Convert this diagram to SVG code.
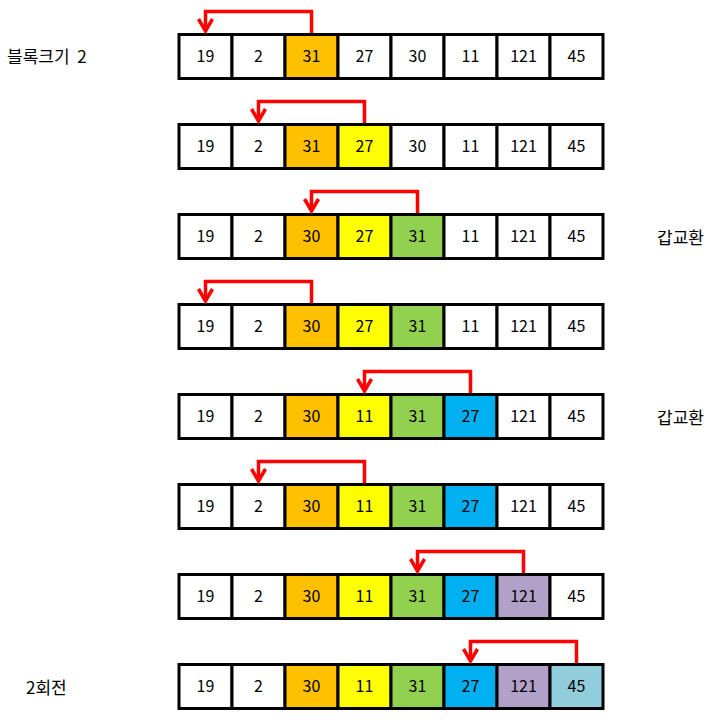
<svg xmlns="http://www.w3.org/2000/svg" width="721" height="722" viewBox="0 0 721 722">
<style>
.c{stroke:#000;stroke-width:3}
.w{fill:#fff}.o{fill:#FFC000}.y{fill:#FFFF00}.g{fill:#92D050}.b{fill:#00B0F0}.p{fill:#B1A0C7}.l{fill:#92CDDC}
.t{font-family:"Noto Sans CJK KR","Liberation Sans",sans-serif;font-size:16px;text-anchor:middle;fill:#000}
.k{font-family:"Noto Sans CJK KR","Liberation Sans",sans-serif;font-size:17px;fill:#000}
.a{fill:none;stroke:#FF0000;stroke-width:3.5}
</style>
<defs>
<marker id="ah" markerUnits="userSpaceOnUse" markerWidth="20" markerHeight="20" refX="10" refY="2" orient="auto-start-reverse" viewBox="0 0 20 20" overflow="visible">
<path d="M3,-10 L10,2 L17,-10" transform="rotate(-90 10 2)" fill="none" stroke="#FF0000" stroke-width="3.5"/>
</marker>
</defs>
<rect width="721" height="722" fill="#fff"/>

<g id="labels">
<text class="k" x="7" y="63" word-spacing="4">블록크기 2</text>
<text class="k" x="657" y="244">갑교환</text>
<text class="k" x="657" y="424">갑교환</text>
<text class="k" x="26" y="694">2회전</text>
</g>

<g id="row1">
<rect class="c w" x="179" y="34.5" width="53" height="44"/><text class="t" x="205.5" y="62">19</text>
<rect class="c w" x="232" y="34.5" width="53" height="44"/><text class="t" x="258.5" y="62">2</text>
<rect class="c o" x="285" y="34.5" width="53" height="44"/><text class="t" x="311.5" y="62">31</text>
<rect class="c w" x="338" y="34.5" width="53" height="44"/><text class="t" x="364.5" y="62">27</text>
<rect class="c w" x="391" y="34.5" width="53" height="44"/><text class="t" x="417.5" y="62">30</text>
<rect class="c w" x="444" y="34.5" width="53" height="44"/><text class="t" x="470.5" y="62">11</text>
<rect class="c w" x="497" y="34.5" width="53" height="44"/><text class="t" x="523.5" y="62">121</text>
<rect class="c w" x="550" y="34.5" width="53" height="44"/><text class="t" x="576.5" y="62">45</text>
</g>
<g id="row2" transform="translate(0,90)">
<rect class="c w" x="179" y="34.5" width="53" height="44"/><text class="t" x="205.5" y="62">19</text>
<rect class="c w" x="232" y="34.5" width="53" height="44"/><text class="t" x="258.5" y="62">2</text>
<rect class="c o" x="285" y="34.5" width="53" height="44"/><text class="t" x="311.5" y="62">31</text>
<rect class="c y" x="338" y="34.5" width="53" height="44"/><text class="t" x="364.5" y="62">27</text>
<rect class="c w" x="391" y="34.5" width="53" height="44"/><text class="t" x="417.5" y="62">30</text>
<rect class="c w" x="444" y="34.5" width="53" height="44"/><text class="t" x="470.5" y="62">11</text>
<rect class="c w" x="497" y="34.5" width="53" height="44"/><text class="t" x="523.5" y="62">121</text>
<rect class="c w" x="550" y="34.5" width="53" height="44"/><text class="t" x="576.5" y="62">45</text>
</g>
<g id="row3" transform="translate(0,180)">
<rect class="c w" x="179" y="34.5" width="53" height="44"/><text class="t" x="205.5" y="62">19</text>
<rect class="c w" x="232" y="34.5" width="53" height="44"/><text class="t" x="258.5" y="62">2</text>
<rect class="c o" x="285" y="34.5" width="53" height="44"/><text class="t" x="311.5" y="62">30</text>
<rect class="c y" x="338" y="34.5" width="53" height="44"/><text class="t" x="364.5" y="62">27</text>
<rect class="c g" x="391" y="34.5" width="53" height="44"/><text class="t" x="417.5" y="62">31</text>
<rect class="c w" x="444" y="34.5" width="53" height="44"/><text class="t" x="470.5" y="62">11</text>
<rect class="c w" x="497" y="34.5" width="53" height="44"/><text class="t" x="523.5" y="62">121</text>
<rect class="c w" x="550" y="34.5" width="53" height="44"/><text class="t" x="576.5" y="62">45</text>
</g>
<g id="row4" transform="translate(0,270)">
<rect class="c w" x="179" y="34.5" width="53" height="44"/><text class="t" x="205.5" y="62">19</text>
<rect class="c w" x="232" y="34.5" width="53" height="44"/><text class="t" x="258.5" y="62">2</text>
<rect class="c o" x="285" y="34.5" width="53" height="44"/><text class="t" x="311.5" y="62">30</text>
<rect class="c y" x="338" y="34.5" width="53" height="44"/><text class="t" x="364.5" y="62">27</text>
<rect class="c g" x="391" y="34.5" width="53" height="44"/><text class="t" x="417.5" y="62">31</text>
<rect class="c w" x="444" y="34.5" width="53" height="44"/><text class="t" x="470.5" y="62">11</text>
<rect class="c w" x="497" y="34.5" width="53" height="44"/><text class="t" x="523.5" y="62">121</text>
<rect class="c w" x="550" y="34.5" width="53" height="44"/><text class="t" x="576.5" y="62">45</text>
</g>
<g id="row5" transform="translate(0,360)">
<rect class="c w" x="179" y="34.5" width="53" height="44"/><text class="t" x="205.5" y="62">19</text>
<rect class="c w" x="232" y="34.5" width="53" height="44"/><text class="t" x="258.5" y="62">2</text>
<rect class="c o" x="285" y="34.5" width="53" height="44"/><text class="t" x="311.5" y="62">30</text>
<rect class="c y" x="338" y="34.5" width="53" height="44"/><text class="t" x="364.5" y="62">11</text>
<rect class="c g" x="391" y="34.5" width="53" height="44"/><text class="t" x="417.5" y="62">31</text>
<rect class="c b" x="444" y="34.5" width="53" height="44"/><text class="t" x="470.5" y="62">27</text>
<rect class="c w" x="497" y="34.5" width="53" height="44"/><text class="t" x="523.5" y="62">121</text>
<rect class="c w" x="550" y="34.5" width="53" height="44"/><text class="t" x="576.5" y="62">45</text>
</g>
<g id="row6" transform="translate(0,450)">
<rect class="c w" x="179" y="34.5" width="53" height="44"/><text class="t" x="205.5" y="62">19</text>
<rect class="c w" x="232" y="34.5" width="53" height="44"/><text class="t" x="258.5" y="62">2</text>
<rect class="c o" x="285" y="34.5" width="53" height="44"/><text class="t" x="311.5" y="62">30</text>
<rect class="c y" x="338" y="34.5" width="53" height="44"/><text class="t" x="364.5" y="62">11</text>
<rect class="c g" x="391" y="34.5" width="53" height="44"/><text class="t" x="417.5" y="62">31</text>
<rect class="c b" x="444" y="34.5" width="53" height="44"/><text class="t" x="470.5" y="62">27</text>
<rect class="c w" x="497" y="34.5" width="53" height="44"/><text class="t" x="523.5" y="62">121</text>
<rect class="c w" x="550" y="34.5" width="53" height="44"/><text class="t" x="576.5" y="62">45</text>
</g>
<g id="row7" transform="translate(0,540)">
<rect class="c w" x="179" y="34.5" width="53" height="44"/><text class="t" x="205.5" y="62">19</text>
<rect class="c w" x="232" y="34.5" width="53" height="44"/><text class="t" x="258.5" y="62">2</text>
<rect class="c o" x="285" y="34.5" width="53" height="44"/><text class="t" x="311.5" y="62">30</text>
<rect class="c y" x="338" y="34.5" width="53" height="44"/><text class="t" x="364.5" y="62">11</text>
<rect class="c g" x="391" y="34.5" width="53" height="44"/><text class="t" x="417.5" y="62">31</text>
<rect class="c b" x="444" y="34.5" width="53" height="44"/><text class="t" x="470.5" y="62">27</text>
<rect class="c p" x="497" y="34.5" width="53" height="44"/><text class="t" x="523.5" y="62">121</text>
<rect class="c w" x="550" y="34.5" width="53" height="44"/><text class="t" x="576.5" y="62">45</text>
</g>
<g id="row8" transform="translate(0,630)">
<rect class="c w" x="179" y="34.5" width="53" height="44"/><text class="t" x="205.5" y="62">19</text>
<rect class="c w" x="232" y="34.5" width="53" height="44"/><text class="t" x="258.5" y="62">2</text>
<rect class="c o" x="285" y="34.5" width="53" height="44"/><text class="t" x="311.5" y="62">30</text>
<rect class="c y" x="338" y="34.5" width="53" height="44"/><text class="t" x="364.5" y="62">11</text>
<rect class="c g" x="391" y="34.5" width="53" height="44"/><text class="t" x="417.5" y="62">31</text>
<rect class="c b" x="444" y="34.5" width="53" height="44"/><text class="t" x="470.5" y="62">27</text>
<rect class="c p" x="497" y="34.5" width="53" height="44"/><text class="t" x="523.5" y="62">121</text>
<rect class="c l" x="550" y="34.5" width="53" height="44"/><text class="t" x="576.5" y="62">45</text>
</g>

<g id="connectors">
<path class="a" d="M311.5,33 V11.5 H205.5 V31" marker-end="url(#ah)"/>
<path class="a" d="M364.5,123 V101.5 H258.5 V121" marker-end="url(#ah)"/>
<path class="a" d="M417.5,213 V191.5 H311.5 V211" marker-end="url(#ah)"/>
<path class="a" d="M311.5,303 V281.5 H205.5 V301" marker-end="url(#ah)"/>
<path class="a" d="M470.5,393 V371.5 H364.5 V391" marker-end="url(#ah)"/>
<path class="a" d="M364.5,483 V461.5 H258.5 V481" marker-end="url(#ah)"/>
<path class="a" d="M523.5,573 V551.5 H417.5 V571" marker-end="url(#ah)"/>
<path class="a" d="M576.5,663 V641.5 H470.5 V661" marker-end="url(#ah)"/>
</g>
</svg>
